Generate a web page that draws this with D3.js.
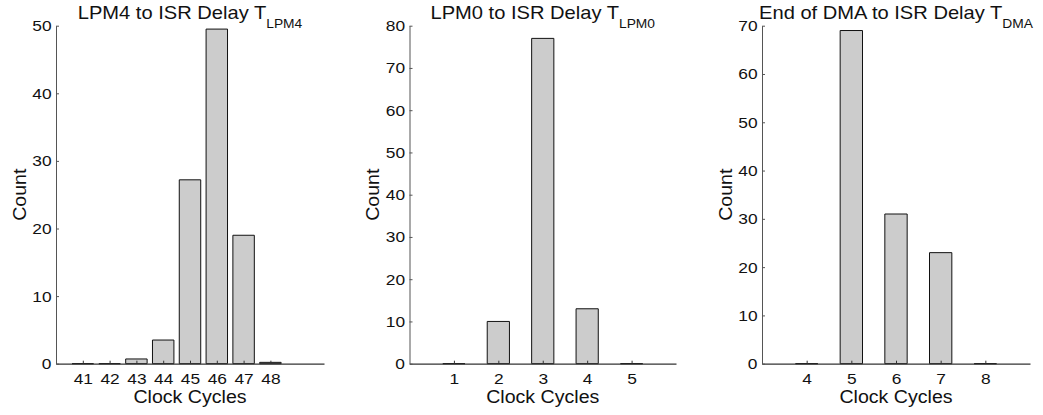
<!DOCTYPE html>
<html>
<head>
<meta charset="utf-8">
<script src="https://cdn.jsdelivr.net/npm/d3@7"></script>
<style>
  html, body { margin: 0; padding: 0; background: #fff; }
  svg { display: block; }
  text { font-family: "Liberation Sans", Arial, Helvetica, sans-serif; fill: #111; }
</style>
</head>
<body>
<svg id="chart" width="1043" height="415"></svg>
<script>
// Interrupt latency histograms (clock cycles vs. count)
const lpm4Cycles = [41, 42, 43, 44, 45, 46, 47, 48];
const lpm4Counts = [0, 0, 0.7, 3.5, 27.2, 49.5, 19, 0.2];
const lpm4YTicks = [0, 10, 20, 30, 40, 50];

const lpm0Cycles = [1, 2, 3, 4, 5];
const lpm0Counts = [0, 10, 77, 13, 0];
const lpm0YTicks = [0, 10, 20, 30, 40, 50, 60, 70, 80];

const dmaCycles = [4, 5, 6, 7, 8];
const dmaCounts = [0, 69, 31, 23, 0];
const dmaYTicks = [0, 10, 20, 30, 40, 50, 60, 70];

const panels = [
  { title: "LPM4 to ISR Delay T", sub: "LPM4", cycles: lpm4Cycles, counts: lpm4Counts,
    yTicks: lpm4YTicks, xDomain: [40, 50], barWidth: 0.8, left: 56, right: 324 },
  { title: "LPM0 to ISR Delay T", sub: "LPM0", cycles: lpm0Cycles, counts: lpm0Counts,
    yTicks: lpm0YTicks, xDomain: [0, 6], barWidth: 0.5, left: 409.5, right: 676 },
  { title: "End of DMA to ISR Delay T", sub: "DMA", cycles: dmaCycles, counts: dmaCounts,
    yTicks: dmaYTicks, xDomain: [3, 9], barWidth: 0.5, left: 762, right: 1030 }
];

const plotTop = 25.7, plotBottom = 363.7;
const stretch = "scale(1.12,1)";
const titleStretch = "scale(1.15,1)";
const fmt = d3.format("d");
const svg = d3.select("#chart");

panels.forEach(p => {
  const x = d3.scaleLinear().domain(p.xDomain).range([p.left, p.right]);
  const yMax = p.yTicks[p.yTicks.length - 1];
  const y = d3.scaleLinear().domain([0, yMax]).range([plotBottom, plotTop]);
  const g = svg.append("g");

  // bars drawn as closed paths so zero-count bins still show their outline
  g.selectAll("path.bar")
    .data(p.cycles.map((c, i) => ({ c, v: p.counts[i] })))
    .join("path")
    .attr("class", "bar")
    .attr("d", d => {
      const x0 = x(d.c - p.barWidth / 2), x1 = x(d.c + p.barWidth / 2);
      const y0 = y(0), y1 = y(d.v);
      return `M${x0},${y0}V${y1}H${x1}V${y0}Z`;
    })
    .attr("fill", "#cccccc")
    .attr("stroke", "#111")
    .attr("stroke-width", 1);

  // x axis
  const xAxis = g.append("g")
    .attr("transform", `translate(0,${plotBottom})`)
    .call(d3.axisBottom(x).tickValues(p.cycles).tickFormat(fmt)
      .tickSizeInner(-3).tickSizeOuter(0).tickPadding(9));
  xAxis.select(".domain").attr("stroke", "#333").attr("stroke-width", 1.3);
  xAxis.selectAll(".tick line").attr("stroke", "#333");
  xAxis.selectAll(".tick text")
    .attr("font-size", 15.5).attr("fill", "#111")
    .attr("font-family", "Liberation Sans, Arial, sans-serif")
    .attr("transform", stretch);

  // y axis
  const yAxis = g.append("g")
    .attr("transform", `translate(${p.left},0)`)
    .call(d3.axisLeft(y).tickValues(p.yTicks).tickFormat(fmt)
      .tickSizeInner(-3).tickSizeOuter(0).tickPadding(4));
  yAxis.select(".domain").attr("stroke", "#555").attr("stroke-width", 1);
  yAxis.selectAll(".tick line").attr("stroke", "#555");
  yAxis.selectAll(".tick text")
    .attr("font-size", 15.5).attr("fill", "#111")
    .attr("font-family", "Liberation Sans, Arial, sans-serif")
    .attr("transform", stretch);

  // axis titles
  g.append("text")
    .attr("transform", `translate(${(p.left + p.right) / 2},403) ${stretch}`)
    .attr("text-anchor", "middle")
    .attr("font-size", 17.5)
    .text("Clock Cycles");

  g.append("text")
    .attr("transform", `translate(${p.left - 30.5},${(plotTop + plotBottom) / 2}) rotate(-90) ${stretch}`)
    .attr("text-anchor", "middle")
    .attr("font-size", 17.5)
    .text("Count");

  // chart title with subscript
  const t = g.append("text")
    .attr("transform", `translate(${(p.left + p.right) / 2},19.3) ${titleStretch}`)
    .attr("text-anchor", "middle")
    .attr("font-size", 17.5);
  t.append("tspan").text(p.title);
  t.append("tspan").attr("font-size", 12).attr("dy", 8.5).text(p.sub);
});
</script>
</body>
</html>
